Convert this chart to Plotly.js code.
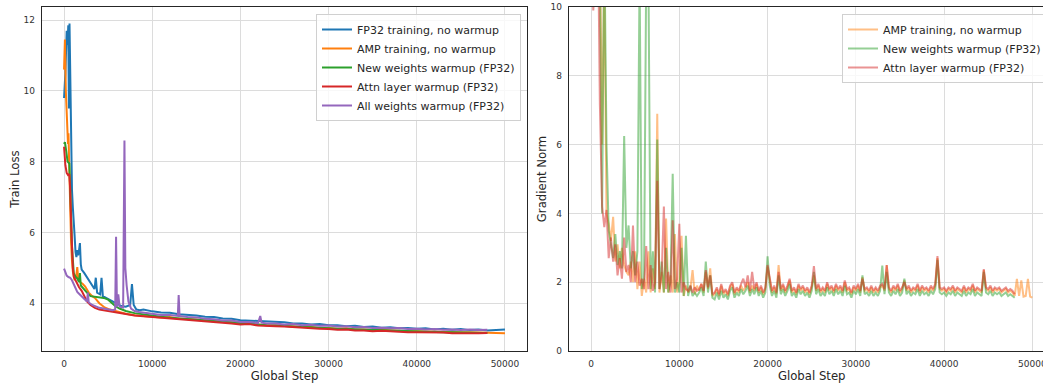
<!DOCTYPE html>
<html>
<head>
<meta charset="utf-8">
<script src="https://cdn.plot.ly/plotly-3.0.1.min.js"></script>
<style>
html,body{margin:0;padding:0;background:#fff;overflow:hidden;width:1043px;height:383px;}
#chart{width:1056px;height:383px;}
</style>
</head>
<body>
<div id="chart"></div>
<script>
// ---------------- Left panel: Train Loss ----------------
const fp32Steps = [0,150,300,400,480,550,620,700,800,900,1000,1100,1200,1300,1400,1500,1600,1700,1800,1900,2000,2300,2700,3100,3450,3600,3750,4100,4250,4400,5000,5500,6000,6500,7000,7500,7700,7900,8200,8600,9000,9500,
  10000,11000,12000,13000,14000,15000,16000,17000,18000,19000,20000,21000,22000,23000,24000,25000,26000,27000,28000,29000,30000,31000,32000,33000,34000,35000,36000,37000,38000,39000,40000,41000,42000,43000,44000,45000,46000,47000,48000,49000,50000];
const fp32Loss = [9.8,10.5,11.7,11.3,11.85,9.5,11.9,10.2,8.2,7.2,6.7,6.4,5.9,5.45,5.3,5.5,5.35,5.5,5.7,5.1,4.95,4.85,4.7,4.55,4.4,4.72,4.3,4.25,4.72,4.2,4.12,4.05,3.97,3.92,3.9,3.95,4.54,3.95,3.82,3.8,3.82,3.79,
  3.77,3.74,3.73,3.69,3.68,3.65,3.62,3.61,3.57,3.56,3.52,3.51,3.50,3.48,3.46,3.46,3.43,3.43,3.40,3.41,3.38,3.38,3.35,3.36,3.33,3.34,3.31,3.32,3.29,3.30,3.28,3.29,3.26,3.28,3.25,3.27,3.24,3.26,3.23,3.25,3.26];

const ampSteps = [0,100,200,300,400,450,500,600,700,800,900,1000,1200,1400,1500,1600,1800,2100,2400,2800,3200,3500,4000,4600,5200,6000,7000,8000,9000,
  10000,11000,12000,13000,14000,15000,16000,17000,18000,19000,20000,21000,22000,23000,24000,25000,26000,27000,28000,29000,30000,31000,32000,33000,34000,35000,36000,37000,38000,39000,40000,41000,42000,43000,44000,45000,46000,47000,48000,49000,50000];
const ampLoss = [10.6,11.45,10.0,9.2,8.8,8.5,8.8,7.5,6.5,5.7,5.2,4.9,4.65,4.8,5.02,4.7,4.6,4.55,4.47,4.3,4.2,4.15,4.0,3.88,3.82,3.76,3.7,3.66,3.64,
  3.63,3.60,3.61,3.56,3.56,3.53,3.52,3.50,3.48,3.45,3.43,3.42,3.41,3.38,3.38,3.36,3.36,3.33,3.33,3.30,3.30,3.28,3.29,3.26,3.26,3.24,3.25,3.23,3.23,3.21,3.21,3.20,3.20,3.19,3.19,3.18,3.18,3.17,3.18,3.16,3.15];

const newwSteps = [0,100,250,400,600,700,800,900,1000,1100,1300,1500,1700,1800,1900,2200,2600,3000,3500,4000,4500,5000,5400,5800,6300,7000,8000,9000,
  10000,11000,12000,13000,14000,15000,16000,17000,18000,19000,20000,21000,22000,23000,24000,25000,26000,27000,28000,29000,30000,31000,32000,33000,34000,35000,36000,37000,38000,39000,40000,41000,42000,43000,44000,45000,46000,47000,48000];
const newwLoss = [8.5,8.55,8.3,8.0,7.95,7.4,6.5,5.6,5.1,4.85,4.75,4.7,4.6,4.85,4.5,4.4,4.3,4.2,4.18,4.16,4.15,4.1,4.02,3.92,3.85,3.78,3.72,3.68,
  3.64,3.62,3.59,3.57,3.55,3.53,3.51,3.49,3.47,3.45,3.42,3.41,3.40,3.38,3.37,3.35,3.34,3.33,3.32,3.30,3.29,3.28,3.27,3.26,3.25,3.24,3.23,3.22,3.21,3.21,3.20,3.19,3.19,3.18,3.18,3.17,3.17,3.16,3.16];

const attnSteps = [0,150,300,450,600,700,800,900,1000,1100,1300,1500,1700,2000,2300,2600,3000,3500,4000,4500,5000,6000,7000,8000,9000,
  10000,11000,12000,13000,14000,15000,16000,17000,18000,19000,20000,21000,22000,23000,24000,25000,26000,27000,28000,29000,30000,31000,32000,33000,34000,35000,36000,37000,38000,39000,40000,41000,42000,43000,44000,45000,46000,47000,48000];
const attnLoss = [8.42,7.9,7.68,7.62,7.65,7.2,6.3,5.5,5.0,4.75,4.65,4.55,4.45,4.35,4.2,4.05,3.95,3.87,3.82,3.8,3.76,3.72,3.68,3.65,3.63,
  3.61,3.58,3.58,3.54,3.54,3.50,3.50,3.47,3.46,3.43,3.40,3.41,3.37,3.37,3.35,3.34,3.32,3.31,3.29,3.28,3.27,3.25,3.26,3.23,3.23,3.21,3.22,3.20,3.20,3.18,3.18,3.18,3.16,3.17,3.15,3.16,3.15,3.15,3.16];

const allwSteps = [0,150,300,500,700,900,1100,1300,1500,1700,2000,2300,2600,2700,2800,3200,3600,4000,4500,5000,5500,5800,5900,6000,6150,6300,6700,6850,6950,7100,7300,7600,8000,8500,9000,9500,
  10000,11000,12000,12900,13000,13100,14000,15000,16000,17000,18000,19000,20000,21000,22000,22250,22400,23000,24000,25000,26000,27000,28000,29000,30000,31000,32000,33000,34000,35000,36000,37000,38000,39000,40000,41000,42000,43000,44000,45000,46000,47000,48000];
const allwLoss = [4.98,4.85,4.78,4.74,4.72,4.65,4.55,4.42,4.32,4.27,4.2,4.12,4.05,4.3,4.02,3.95,3.9,3.87,3.85,3.82,3.8,3.82,5.88,3.9,4.25,3.9,3.88,8.6,5.0,4.5,4.05,3.85,3.78,3.75,3.73,3.71,
  3.70,3.67,3.67,3.64,4.23,3.64,3.61,3.60,3.56,3.55,3.51,3.51,3.47,3.47,3.44,3.64,3.45,3.43,3.43,3.40,3.41,3.38,3.39,3.36,3.37,3.34,3.35,3.32,3.33,3.30,3.31,3.29,3.30,3.27,3.28,3.26,3.27,3.25,3.26,3.24,3.26,3.24,3.25];

// ---------------- Right panel: Gradient Norm ----------------
const gnSteps = [0,250,500,750,1000,1250,1500,1750,2000,2250,2500,2750,3000,3250,3500,3750,4000,4250,4500,4750,5000,5250,5500,5750,6000,6250,6500,6750,7000,7250,7500,7750,8000,8250,8500,8750,9000,9250,9500,9750,10000,10250,10500,10750,11000,11250,11500,11750,12000,
  12250,12500,12750,13000,13250,13500,13750,14000,
  14250,14500,14750,15000,15250,15500,15750,16000,
  16250,16500,16750,17000,17250,17500,17750,18000,
  18250,18500,18750,19000,19250,19500,19750,20000,
  20250,20500,20750,21000,21250,21500,21750,22000,
  22250,22500,22750,23000,23250,23500,23750,24000,
  24250,24500,24750,25000,25250,25500,25750,26000,
  26250,26500,26750,27000,27250,27500,27750,28000,
  28250,28500,28750,29000,29250,29500,29750,30000,
  30250,30500,30750,31000,31250,31500,31750,32000,
  32250,32500,32750,33000,33250,33500,33750,34000,
  34250,34500,34750,35000,35250,35500,35750,36000,
  36250,36500,36750,37000,37250,37500,37750,38000,
  38250,38500,38750,39000,39250,39500,39750,40000,
  40250,40500,40750,41000,41250,41500,41750,42000,
  42250,42500,42750,43000,43250,43500,43750,44000,
  44250,44500,44750,45000,45250,45500,45750,46000,
  46250,46500,46750,47000,47250,47500,47750,48000,
  48250,48500,48750,49000,49250,49500,49750,50000];
const ampGrad = [14,13,12,11,12,6.0,11,4.0,3.7,3.2,
  3.9,2.6,3.1,2.4,3.0,2.5,2.3,2.2,2.6,2.0,
  2.9,1.8,2.6,1.6,2.1,1.7,2.9,1.7,2.4,1.8,
  6.9,1.7,2.3,1.7,3.85,1.7,2.2,1.7,3.4,1.7,
  2.0,3.35,1.6,1.9,1.7,1.8,2.35,1.65,1.9,
  1.75,1.95,1.7,2.3,1.8,2.4,1.6,1.65,
  1.8,1.6,1.9,1.65,1.75,1.6,1.85,1.95,
  1.65,1.8,1.7,1.9,1.75,1.85,2.0,1.7,
  1.9,1.75,1.95,1.7,1.85,1.65,1.8,2.45,
  2.0,1.7,1.85,1.65,2.5,1.75,1.9,1.7,
  1.85,2.05,1.7,1.8,1.65,1.9,1.75,1.85,
  1.7,1.8,1.65,1.85,2.2,1.75,1.9,1.7,
  1.8,1.7,1.95,1.75,1.85,1.7,1.9,1.75,
  1.85,1.7,2.0,1.75,1.8,1.65,1.85,1.75,
  1.9,1.7,2.15,1.75,1.8,1.7,1.85,1.7,
  1.8,1.7,1.85,1.9,1.75,2.5,1.8,1.7,
  1.85,1.75,1.9,1.7,1.8,2.05,1.75,1.85,
  1.7,1.8,1.75,1.9,1.7,1.85,1.75,1.8,
  1.7,1.85,1.75,1.9,2.7,1.8,1.75,1.8,
  1.7,1.8,1.75,1.85,1.7,1.8,1.75,1.7,
  1.85,1.7,1.8,1.75,1.9,1.7,1.8,1.75,
  1.7,2.35,1.8,1.75,1.85,1.7,1.8,1.75,
  1.8,1.7,1.75,1.8,1.7,1.75,1.7,1.6,
  2.1,1.6,2.05,1.58,1.6,2.1,1.58,1.55];
const newwGrad = [14,14,13,12,11,4.0,12,6.0,3.5,3.1,
  2.7,3.4,2.5,2.9,2.4,6.25,3.0,3.65,2.4,2.9,
  2.2,2.9,11,1.8,2.1,11,11,1.8,2.9,1.7,
  6.15,1.8,2.6,1.7,3.0,1.7,2.0,5.15,1.7,2.0,
  1.7,3.0,1.6,3.35,1.6,1.9,1.6,1.7,1.6,
  1.7,1.85,1.6,2.6,1.7,2.2,1.55,1.5,
  1.7,1.5,1.75,1.55,1.65,1.5,1.75,1.85,
  1.55,1.7,1.6,1.8,1.65,1.75,1.9,1.6,
  1.8,1.65,1.85,1.6,1.75,1.55,1.7,2.75,
  1.9,1.6,1.75,1.55,2.2,1.65,1.8,1.6,
  1.75,1.95,1.6,1.7,1.55,1.8,1.65,1.75,
  1.6,1.7,1.55,1.75,2.3,1.65,1.8,1.6,
  1.7,1.6,1.85,1.65,1.75,1.6,1.8,1.65,
  1.75,1.6,1.9,1.65,1.7,1.55,1.75,1.65,
  1.8,1.6,2.2,1.65,1.7,1.6,1.75,1.6,
  1.7,1.6,1.75,2.48,1.65,2.3,1.7,1.6,
  1.75,1.65,1.8,1.6,1.7,2.1,1.65,1.75,
  1.6,1.7,1.65,1.8,1.6,1.75,1.65,1.7,
  1.6,1.75,1.65,1.8,2.65,1.7,1.65,1.7,
  1.6,1.7,1.65,1.75,1.6,1.7,1.65,1.6,
  1.75,1.6,1.7,1.65,1.8,1.6,1.7,1.65,
  1.6,2.3,1.7,1.65,1.75,1.6,1.7,1.65,
  1.7,1.6,1.65,1.7,1.6,1.65,1.6,1.55];
const attnGrad = [12,9.9,11,13,7.15,4.2,3.6,4.1,2.7,3.3,
  2.6,3.1,2.2,2.7,2.1,3.3,2.3,2.5,2.0,3.65,
  2.0,2.6,1.9,2.1,1.8,3.05,1.8,2.5,1.75,2.0,
  4.95,1.8,2.2,4.2,1.8,2.3,1.7,3.8,1.8,2.1,
  3.7,1.7,2.0,1.8,1.75,1.9,1.7,1.85,1.75,
  1.8,1.95,1.75,2.35,1.85,2.2,1.65,1.7,
  1.85,1.65,1.95,1.7,1.8,1.65,1.9,2.0,
  1.7,1.85,1.75,1.95,2.1,1.85,2.2,1.75,
  2.3,1.8,2.0,1.75,1.9,1.7,1.85,2.5,
  2.05,1.75,1.9,1.7,2.3,1.8,1.95,1.75,
  1.9,2.1,1.75,1.85,1.7,1.95,1.8,1.9,
  1.75,1.85,1.7,1.9,2.47,1.8,1.95,1.75,
  1.85,1.75,2.0,1.8,1.9,1.75,1.95,1.8,
  1.9,1.75,2.05,1.8,1.85,1.7,1.9,1.8,
  1.95,1.75,2.1,1.8,1.85,1.75,1.9,1.75,
  1.85,1.75,1.9,1.95,1.8,2.5,1.85,1.75,
  1.9,1.8,1.95,1.75,1.85,2.0,1.8,1.9,
  1.75,1.85,1.8,1.95,1.75,1.9,1.8,1.85,
  1.75,1.9,1.8,1.95,2.76,1.85,1.8,1.85,
  1.75,1.85,1.8,1.9,1.75,1.85,1.8,1.75,
  1.9,1.75,1.85,1.8,1.95,1.75,1.85,1.8,
  1.75,2.38,1.85,1.8,1.9,1.75,1.85,1.8,
  1.85,1.75,1.8,1.85,1.75,1.8,1.75,1.65];

const lossNames = ["FP32 training, no warmup","AMP training, no warmup","New weights warmup (FP32)","Attn layer warmup (FP32)","All weights warmup (FP32)"];
const gradNames = ["AMP training, no warmup","New weights warmup (FP32)","Attn layer warmup (FP32)"];
const colors = {blue:"#1f77b4", orange:"#ff7f0e", green:"#2ca02c", red:"#d62728", purple:"#9467bd"};

function lossTrace(x, y, name, color){
  return {x:x, y:y, name:name, type:"scatter", mode:"lines", xaxis:"x", yaxis:"y",
    line:{color:color, width:2}, legend:"legend"};
}
function gradTrace(y, name, color){
  return {x:gnSteps.slice(0, y.length), y:y, name:name, type:"scatter", mode:"lines", xaxis:"x2", yaxis:"y2",
    line:{color:color, width:2}, opacity:0.5, legend:"legend2"};
}

const data = [
  lossTrace(fp32Steps, fp32Loss, lossNames[0], colors.blue),
  lossTrace(ampSteps, ampLoss, lossNames[1], colors.orange),
  lossTrace(newwSteps, newwLoss, lossNames[2], colors.green),
  lossTrace(attnSteps, attnLoss, lossNames[3], colors.red),
  lossTrace(allwSteps, allwLoss, lossNames[4], colors.purple),
  gradTrace(ampGrad, gradNames[0], colors.orange),
  gradTrace(newwGrad, gradNames[1], colors.green),
  gradTrace(attnGrad, gradNames[2], colors.red)
];

const W = 1056, H = 383;
const font = "DejaVu Sans, sans-serif";
const axisCommon = {
  showline:true, mirror:true, linecolor:"#262626", linewidth:1.3,
  showgrid:true, gridcolor:"#dcdcdc", gridwidth:1, zeroline:false,
  ticks:"outside", ticklen:4, tickcolor:"rgba(0,0,0,0)",
  tickfont:{family:font, size:9, color:"#333"}
};
const yDom = [(H-351)/H, (H-7)/H];

const layout = {
  width:W, height:H,
  margin:{l:0, r:0, t:0, b:0},
  paper_bgcolor:"#fff", plot_bgcolor:"#fff",
  font:{family:font, color:"#262626"},
  showlegend:true,
  xaxis:Object.assign({}, axisCommon, {domain:[42/W, 527/W], anchor:"y", range:[-2500,52500], dtick:10000, tick0:0, tickformat:"d",
    title:{text:"Global Step", font:{family:font, size:11.7, color:"#262626"}, standoff:6}}),
  yaxis:Object.assign({}, axisCommon, {domain:yDom, anchor:"x", range:[2.65,12.37], dtick:2, tick0:0,
    title:{text:"Train Loss", font:{family:font, size:11.7, color:"#262626"}, standoff:1}}),
  xaxis2:Object.assign({}, axisCommon, {domain:[569/W, 1054.4/W], anchor:"y2", range:[-2500,52500], dtick:10000, tick0:0, tickformat:"d",
    title:{text:"Global Step", font:{family:font, size:11.7, color:"#262626"}, standoff:6}}),
  yaxis2:Object.assign({}, axisCommon, {domain:yDom, anchor:"x2", range:[0,10], dtick:2, tick0:0,
    title:{text:"Gradient Norm", font:{family:font, size:11.7, color:"#262626"}, standoff:1}}),
  legend:{x:316/W, y:(H-14)/H, xanchor:"left", yanchor:"top", bgcolor:"rgba(255,255,255,0.8)",
    bordercolor:"#d0d0d0", borderwidth:1, font:{family:font, size:11, color:"#262626"}, tracegroupgap:0},
  legend2:{x:842/W, y:(H-14)/H, xanchor:"left", yanchor:"top", bgcolor:"rgba(255,255,255,0.8)",
    bordercolor:"#d0d0d0", borderwidth:1, font:{family:font, size:11, color:"#262626"}, tracegroupgap:0}
};

Plotly.newPlot("chart", data, layout, {displayModeBar:false, staticPlot:true});
</script>
</body>
</html>
